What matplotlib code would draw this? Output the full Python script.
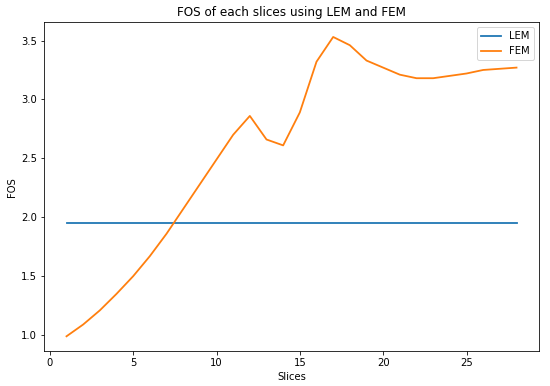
import numpy as np
import matplotlib
matplotlib.use("Agg")
import matplotlib.pyplot as plt

# slice numbers and factor of safety values
slices = list(range(1, 29))
lem = [1.95] * 28
fem = [0.99, 1.09, 1.21, 1.35, 1.50, 1.67, 1.86, 2.07, 2.28, 2.49,
       2.70, 2.86, 2.66, 2.61, 2.89, 3.32, 3.53, 3.46, 3.33, 3.27,
       3.21, 3.18, 3.18, 3.20, 3.22, 3.25, 3.26, 3.27]

fig = plt.figure(figsize=(550 / 72, 386 / 72), dpi=72)
ax = fig.add_axes([0.08, 0.09, 0.90, 0.853])

ax.plot(slices, lem, label='LEM', linewidth=1.8)
ax.plot(slices, fem, label='FEM', linewidth=1.8)

ax.set_title('FOS of each slices using LEM and FEM')
ax.set_xlabel('Slices')
ax.set_ylabel('FOS')
ax.legend(loc='upper right')

fig.savefig('out.png', dpi=72)
